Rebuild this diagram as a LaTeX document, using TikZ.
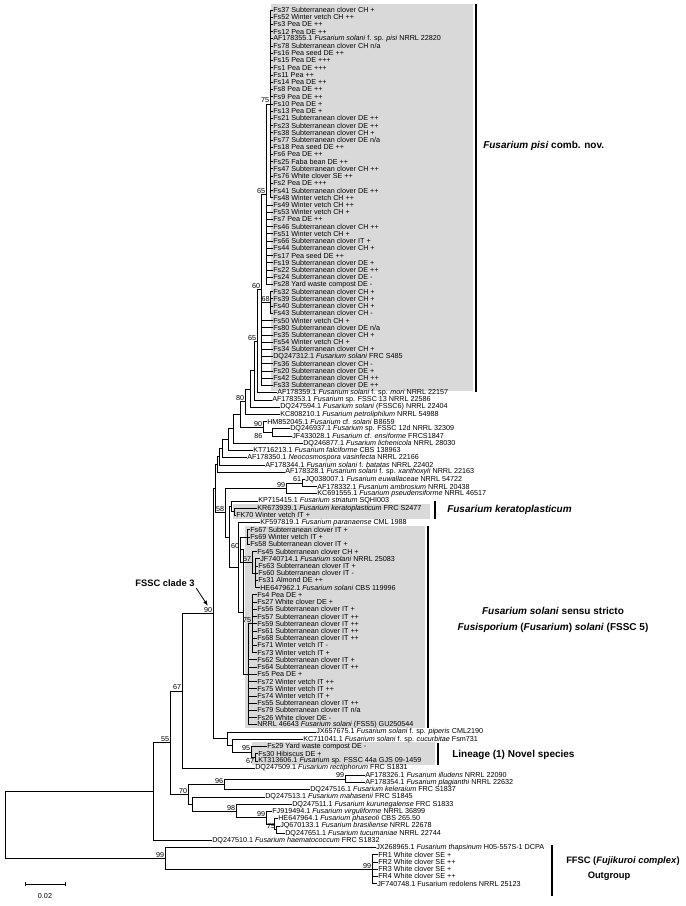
\documentclass[tikz,border=0pt]{standalone}
\usepackage{fontspec}
\setmainfont{Liberation Sans}
\usepackage{tikz}
\usetikzlibrary{arrows.meta}

\definecolor{boxgray}{RGB}{217,217,217}
\newcommand{\leaffont}{\fontsize{5.4}{6}\selectfont}
\newcommand{\cladefont}{\fontsize{7.5}{9}\selectfont\bfseries}

\begin{document}
\begin{tikzpicture}[
	x=0.75pt, y=-0.75pt,
	leaf/.style={anchor=west, inner sep=0pt, font=\leaffont},
	boot/.style={anchor=south east, inner sep=0.5pt, font=\leaffont},
	branch/.style={line width=0.6pt, black},
	cladebox/.style={fill=boxgray, draw=none},
	cladebar/.style={line width=2.2pt, black},
	cladename/.style={anchor=west, inner sep=0pt, font=\cladefont}
]
	\useasboundingbox (0,0) rectangle (685,906);

	% shaded clades and bars
	\fill[cladebox] (271,4) rectangle (473,391);
	\fill[cladebox] (233,504) rectangle (430,519);
	\fill[cladebox] (245,526) rectangle (425,728);
	\fill[cladebox] (252,742) rectangle (435,765);
	\draw[cladebar] (476,4) -- (476,392);
	\draw[cladebar] (435,501) -- (435,519);
	\draw[cladebar] (428,526) -- (428,728);
	\draw[cladebar] (438,743) -- (438,765);
	\draw[cladebar] (552,845) -- (552,896);

	% leaves
	\node[leaf] (l1) at (273,10.0) {Fs37 Subterranean clover CH +};
	\node[leaf] (l2) at (273,17.2) {Fs52 Winter vetch CH ++};
	\node[leaf] (l3) at (273,24.4) {Fs3 Pea DE ++};
	\node[leaf] (l4) at (273,31.7) {Fs12 Pea DE ++};
	\node[leaf] (l5) at (273,38.9) {AF178355.1 \textit{Fusarium solani} f. sp. \textit{pisi} NRRL 22820};
	\node[leaf] (l6) at (273,46.1) {Fs78 Subterranean clover CH n/a};
	\node[leaf] (l7) at (273,53.3) {Fs16 Pea seed DE ++};
	\node[leaf] (l8) at (273,60.5) {Fs15 Pea DE +++};
	\node[leaf] (l9) at (273,67.8) {Fs1 Pea DE +++};
	\node[leaf] (l10) at (273,75.0) {Fs11 Pea ++};
	\node[leaf] (l11) at (273,82.2) {Fs14 Pea DE ++};
	\node[leaf] (l12) at (273,89.4) {Fs8 Pea DE ++};
	\node[leaf] (l13) at (273,96.6) {Fs9 Pea DE ++};
	\node[leaf] (l14) at (273,103.9) {Fs10 Pea DE +};
	\node[leaf] (l15) at (273,111.1) {Fs13 Pea DE +};
	\node[leaf] (l16) at (273,118.3) {Fs21 Subterranean clover DE ++};
	\node[leaf] (l17) at (273,125.5) {Fs23 Subterranean clover DE ++};
	\node[leaf] (l18) at (273,132.7) {Fs38 Subterranean clover CH +};
	\node[leaf] (l19) at (273,140.0) {Fs77 Subterranean clover DE n/a};
	\node[leaf] (l20) at (273,147.2) {Fs18 Pea seed DE ++};
	\node[leaf] (l21) at (273,154.4) {Fs6 Pea DE ++};
	\node[leaf] (l22) at (273,161.6) {Fs25 Faba bean DE ++};
	\node[leaf] (l23) at (273,168.8) {Fs47 Subterranean clover CH ++};
	\node[leaf] (l24) at (273,176.1) {Fs76 White clover SE ++};
	\node[leaf] (l25) at (273,183.3) {Fs2 Pea DE +++};
	\node[leaf] (l26) at (273,190.5) {Fs41 Subterranean clover DE ++};
	\node[leaf] (l27) at (273,197.7) {Fs48 Winter vetch CH ++};
	\node[leaf] (l28) at (273,204.9) {Fs49 Winter vetch CH ++};
	\node[leaf] (l29) at (273,212.2) {Fs53 Winter vetch CH +};
	\node[leaf] (l30) at (273,219.4) {Fs7 Pea DE ++};
	\node[leaf] (l31) at (273,226.6) {Fs46 Subterranean clover CH ++};
	\node[leaf] (l32) at (273,233.8) {Fs51 Winter vetch CH +};
	\node[leaf] (l33) at (273,241.0) {Fs66 Subterranean clover IT +};
	\node[leaf] (l34) at (273,248.3) {Fs44 Subterranean clover CH +};
	\node[leaf] (l35) at (273,255.5) {Fs17 Pea seed DE ++};
	\node[leaf] (l36) at (273,262.7) {Fs19 Subterranean clover DE +};
	\node[leaf] (l37) at (273,269.9) {Fs22 Subterranean clover DE ++};
	\node[leaf] (l38) at (273,277.1) {Fs24 Subterranean clover DE -};
	\node[leaf] (l39) at (273,284.4) {Fs28 Yard waste compost DE -};
	\node[leaf] (l40) at (273,291.6) {Fs32 Subterranean clover CH +};
	\node[leaf] (l41) at (273,298.8) {Fs39 Subterranean clover CH +};
	\node[leaf] (l42) at (273,306.0) {Fs40 Subterranean clover CH +};
	\node[leaf] (l43) at (273,313.2) {Fs43 Subterranean clover CH -};
	\node[leaf] (l44) at (273,320.5) {Fs50 Winter vetch CH +};
	\node[leaf] (l45) at (273,327.7) {Fs80 Subterranean clover DE n/a};
	\node[leaf] (l46) at (273,334.9) {Fs35 Subterranean clover CH +};
	\node[leaf] (l47) at (273,342.1) {Fs54 Winter vetch CH +};
	\node[leaf] (l48) at (273,349.3) {Fs34 Subterranean clover CH +};
	\node[leaf] (l49) at (273,356.6) {DQ247312.1 \textit{Fusarium solani} FRC S485};
	\node[leaf] (l50) at (273,363.8) {Fs36 Subterranean clover CH -};
	\node[leaf] (l51) at (273,371.0) {Fs20 Subterranean clover DE +};
	\node[leaf] (l52) at (273,378.2) {Fs42 Subterranean clover CH ++};
	\node[leaf] (l53) at (273,385.4) {Fs33 Subterranean clover DE ++};
	\node[leaf] (l54) at (277,392.7) {AF178359.1 \textit{Fusarium solani} f. sp. \textit{mori} NRRL 22157};
	\node[leaf] (l55) at (272,399.9) {AF178353.1 \textit{Fusarium} sp. FSSC 13 NRRL 22586};
	\node[leaf] (l56) at (280,407.1) {DQ247594.1 \textit{Fusarium solani} (FSSC6) NRRL 22404};
	\node[leaf] (l57) at (280,414.3) {KC808210.1 \textit{Fusarium petroliphilum} NRRL 54988};
	\node[leaf] (l58) at (267,421.5) {HM852045.1 \textit{Fusarium} cf. \textit{solani} B8659};
	\node[leaf] (l59) at (290,428.8) {DQ246937.1 \textit{Fusarium} sp. FSSC 12d NRRL 32309};
	\node[leaf] (l60) at (292,436.0) {JF433028.1 \textit{Fusarium} cf. \textit{ensiforme} FRCS1847};
	\node[leaf] (l61) at (303,443.2) {DQ246877.1 \textit{Fusarium lichenicola} NRRL 28030};
	\node[leaf] (l62) at (253,450.4) {KT716213.1 \textit{Fusarium falciforme} CBS 138963};
	\node[leaf] (l63) at (247,457.6) {AF178350.1 \textit{Neocosmospora vasinfecta} NRRL 22166};
	\node[leaf] (l64) at (265,464.9) {AF178344.1 \textit{Fusarium solani} f. \textit{batatas} NRRL 22402};
	\node[leaf] (l65) at (285,472.1) {AF178328.1 \textit{Fusarium solani} f. sp. \textit{xanthoxyli} NRRL 22163};
	\node[leaf] (l66) at (305,479.3) {JQ038007.1 \textit{Fusarium euwallaceae} NRRL 54722};
	\node[leaf] (l67) at (317,486.5) {AF178332.1 \textit{Fusarium ambrosium} NRRL 20438};
	\node[leaf] (l68) at (317,493.7) {KC691555.1 \textit{Fusarium pseudensiforme} NRRL 46517};
	\node[leaf] (l69) at (258,501.0) {KP715415.1 \textit{Fusarium striatum} SQHI003};
	\node[leaf] (l70) at (257,508.2) {KR673939.1 \textit{Fusarium keratoplasticum} FRC S2477};
	\node[leaf] (l71) at (236,515.4) {FK70 Winter vetch IT +};
	\node[leaf] (l72) at (260,522.6) {KF597819.1 \textit{Fusarium paranaense} CML 1988};
	\node[leaf] (l73) at (250,529.8) {Fs67 Subterranean clover IT +};
	\node[leaf] (l74) at (250,537.1) {Fs69 Winter vetch IT +};
	\node[leaf] (l75) at (250,544.3) {Fs58 Subterranean clover IT +};
	\node[leaf] (l76) at (257,551.5) {Fs45 Subterranean clover CH +};
	\node[leaf] (l77) at (260,558.7) {JF740714.1 \textit{Fusarium solani} NRRL 25083};
	\node[leaf] (l78) at (258,565.9) {Fs63 Subterranean clover IT +};
	\node[leaf] (l79) at (258,573.2) {Fs60 Subterranean clover IT -};
	\node[leaf] (l80) at (258,580.4) {Fs31 Almond DE ++};
	\node[leaf] (l81) at (260,587.6) {HE647962.1 \textit{Fusarium solani} CBS 119996};
	\node[leaf] (l82) at (257,594.8) {Fs4 Pea DE +};
	\node[leaf] (l83) at (257,602.0) {Fs27 White clover DE +};
	\node[leaf] (l84) at (257,609.3) {Fs56 Subterranean clover IT +};
	\node[leaf] (l85) at (257,616.5) {Fs57 Subterranean clover IT ++};
	\node[leaf] (l86) at (257,623.7) {Fs59 Subterranean clover IT ++};
	\node[leaf] (l87) at (257,630.9) {Fs61 Subterranean clover IT ++};
	\node[leaf] (l88) at (257,638.1) {Fs68 Subterranean clover IT ++};
	\node[leaf] (l89) at (257,645.4) {Fs71 Winter vetch IT -};
	\node[leaf] (l90) at (257,652.6) {Fs73 Winter vetch IT +};
	\node[leaf] (l91) at (257,659.8) {Fs62 Subterranean clover IT +};
	\node[leaf] (l92) at (257,667.0) {Fs64 Subterranean clover IT ++};
	\node[leaf] (l93) at (257,674.2) {Fs5 Pea DE +};
	\node[leaf] (l94) at (257,681.5) {Fs72 Winter vetch IT ++};
	\node[leaf] (l95) at (257,688.7) {Fs75 Winter vetch IT ++};
	\node[leaf] (l96) at (257,695.9) {Fs74 Winter vetch IT +};
	\node[leaf] (l97) at (257,703.1) {Fs55 Subterranean clover IT ++};
	\node[leaf] (l98) at (257,710.3) {Fs79 Subterranean clover IT n/a};
	\node[leaf] (l99) at (257,717.6) {Fs26 White clover DE -};
	\node[leaf] (l100) at (257,724.8) {NRRL 46643 \textit{Fusarium solani} (FSS5) GU250544};
	\node[leaf] (l101) at (316,732.0) {JX657675.1 \textit{Fusarium solani} f. sp. \textit{piperis} CML2190};
	\node[leaf] (l102) at (303,739.2) {KC711041.1 \textit{Fusarium solani} f. sp. \textit{cucurbitae} Fsm731};
	\node[leaf] (l103) at (267,746.4) {Fs29 Yard waste compost DE -};
	\node[leaf] (l104) at (258,753.7) {Fs30 Hibiscus DE +};
	\node[leaf] (l105) at (258,760.9) {KT313606.1 \textit{Fusarium} sp. FSSC 44a GJS 09-1459};
	\node[leaf] (l106) at (255,768.1) {DQ247509.1 \textit{Fusarium rectiphorum} FRC S1831};
	\node[leaf] (l107) at (365,775.3) {AF178326.1 \textit{Fusarium illudens} NRRL 22090};
	\node[leaf] (l108) at (365,782.5) {AF178354.1 \textit{Fusarium plagianthi} NRRL 22632};
	\node[leaf] (l109) at (310,789.8) {DQ247516.1 \textit{Fusarium keleraium} FRC S1837};
	\node[leaf] (l110) at (265,797.0) {DQ247513.1 \textit{Fusarium mahasenii} FRC S1845};
	\node[leaf] (l111) at (292,804.2) {DQ247511.1 \textit{Fusarium kurunegalense} FRC S1833};
	\node[leaf] (l112) at (272,811.4) {FJ919494.1 \textit{Fusarium virguliforme} NRRL 36899};
	\node[leaf] (l113) at (278,818.6) {HE647964.1 \textit{Fusarium phaseoli} CBS 265.50};
	\node[leaf] (l114) at (280,825.9) {JQ670133.1 \textit{Fusarium brasiliense} NRRL 22678};
	\node[leaf] (l115) at (285,833.1) {DQ247651.1 \textit{Fusarium tucumaniae} NRRL 22744};
	\node[leaf] (l116) at (212,840.3) {DQ247510.1 \textit{Fusarium haematococcum} FRC S1832};
	\node[leaf] (l117) at (376,847.5) {JX268965.1 \textit{Fusarium thapsinum} H05-557S-1 DCPA};
	\node[leaf] (l118) at (378,854.7) {FR1 White clover SE +};
	\node[leaf] (l119) at (378,862.0) {FR2 White clover SE ++};
	\node[leaf] (l120) at (378,869.2) {FR3 White clover SE +};
	\node[leaf] (l121) at (378,876.4) {FR4 White clover SE ++};
	\node[leaf] (l122) at (377,883.6) {JF740748.1 Fusarium redolens NRRL 25123};

	% internal nodes
	\coordinate (p75) at (270,103.9);
	\coordinate (p65a) at (266,194.2);
	\coordinate (p68) at (270.5,302.4);
	\coordinate (p60) at (261,289.8);
	\coordinate (nmori) at (257,341.3);
	\coordinate (n353) at (254,370.6);
	\coordinate (n594) at (250,388.9);
	\coordinate (n80) at (245,401.6);
	\coordinate (n86) at (272,432.4);
	\coordinate (n90a) at (263,427.0);
	\coordinate (nB) at (240,414.3);
	\coordinate (nC) at (233,428.8);
	\coordinate (nD) at (228,439.6);
	\coordinate (nE) at (222,448.6);
	\coordinate (nF) at (219,456.8);
	\coordinate (nG) at (217,464.4);
	\coordinate (n61) at (302,482.9);
	\coordinate (n99a) at (286,488.3);
	\coordinate (nker) at (234,511.8);
	\coordinate (nkp) at (231,506.4);
	\coordinate (nT) at (247,537.1);
	\coordinate (nQ5) at (255,573.2);
	\coordinate (n57) at (252,562.3);
	\coordinate (n60b) at (240,549.7);
	\coordinate (n75c) at (252,623.7);
	\coordinate (nR) at (248,674.3);
	\coordinate (nF5) at (243,612.0);
	\coordinate (npar) at (238,567.3);
	\coordinate (nkf) at (229,536.9);
	\coordinate (n58) at (225,512.6);
	\coordinate (nU) at (215,488.5);
	\coordinate (n67c) at (255,757.3);
	\coordinate (n95) at (251,751.9);
	\coordinate (nK) at (232,745.6);
	\coordinate (nJ) at (227,738.8);
	\coordinate (n90) at (213,613.7);
	\coordinate (n67b) at (182,690.9);
	\coordinate (n99i) at (345,778.9);
	\coordinate (n96) at (224,784.4);
	\coordinate (n75b) at (276,829.5);
	\coordinate (nH) at (274,824.1);
	\coordinate (n99b) at (266,817.8);
	\coordinate (n98) at (236,811.0);
	\coordinate (nM) at (192,804.0);
	\coordinate (n70) at (188,794.2);
	\coordinate (n55) at (170,742.6);
	\coordinate (nQ) at (153,791.5);
	\coordinate (nFR) at (372,869.2);
	\coordinate (nout) at (165,858.4);
	\coordinate (root) at (5,824.9);

	% branches
	\foreach \i in {1,...,27} \draw[branch] (p75) |- (l\i.west);
	\foreach \i in {28,...,39} \draw[branch] (p65a) |- (l\i.west);
	\draw[branch] (p65a) |- (p75);
	\foreach \i in {40,...,43} \draw[branch] (p68) |- (l\i.west);
	\foreach \i in {44,...,53} \draw[branch] (p60) |- (l\i.west);
	\draw[branch] (p60) |- (p65a);
	\draw[branch] (p60) |- (p68);
	\draw[branch] (nmori) |- (p60);
	\draw[branch] (nmori) |- (l54.west);
	\draw[branch] (n353) |- (nmori);
	\draw[branch] (n353) |- (l55.west);
	\draw[branch] (n594) |- (n353);
	\draw[branch] (n594) |- (l56.west);
	\draw[branch] (n80) |- (n594);
	\draw[branch] (n80) |- (l57.west);
	\draw[branch] (n86) |- (l59.west);
	\draw[branch] (n86) |- (l60.west);
	\draw[branch] (n90a) |- (l58.west);
	\draw[branch] (n90a) |- (n86);
	\draw[branch] (nB) |- (n80);
	\draw[branch] (nB) |- (n90a);
	\draw[branch] (nC) |- (nB);
	\draw[branch] (nC) |- (l61.west);
	\draw[branch] (nD) |- (nC);
	\draw[branch] (nD) |- (l62.west);
	\draw[branch] (nE) |- (nD);
	\draw[branch] (nE) |- (l63.west);
	\draw[branch] (nF) |- (nE);
	\draw[branch] (nF) |- (l64.west);
	\draw[branch] (nG) |- (nF);
	\draw[branch] (nG) |- (l65.west);
	\draw[branch] (n61) |- (l66.west);
	\draw[branch] (n61) |- (l67.west);
	\draw[branch] (n99a) |- (n61);
	\draw[branch] (n99a) |- (l68.west);
	\draw[branch] (nker) |- (l70.west);
	\draw[branch] (nker) |- (l71.west);
	\draw[branch] (nkp) |- (l69.west);
	\draw[branch] (nkp) |- (nker);
	\foreach \i in {73,74,75} \draw[branch] (nT) |- (l\i.west);
	\foreach \i in {77,...,81} \draw[branch] (nQ5) |- (l\i.west);
	\draw[branch] (n57) |- (l76.west);
	\draw[branch] (n57) |- (nQ5);
	\draw[branch] (n60b) |- (nT);
	\draw[branch] (n60b) |- (n57);
	\foreach \i in {82,...,90} \draw[branch] (n75c) |- (l\i.west);
	\foreach \i in {91,...,100} \draw[branch] (nR) |- (l\i.west);
	\draw[branch] (nR) |- (n75c);
	\draw[branch] (nF5) |- (n60b);
	\draw[branch] (nF5) |- (nR);
	\draw[branch] (npar) |- (l72.west);
	\draw[branch] (npar) |- (nF5);
	\draw[branch] (nkf) |- (nkp);
	\draw[branch] (nkf) |- (npar);
	\draw[branch] (n58) |- (n99a);
	\draw[branch] (n58) |- (nkf);
	\draw[branch] (nU) |- (nG);
	\draw[branch] (nU) |- (n58);
	\draw[branch] (n67c) |- (l104.west);
	\draw[branch] (n67c) |- (l105.west);
	\draw[branch] (n95) |- (l103.west);
	\draw[branch] (n95) |- (n67c);
	\draw[branch] (nK) |- (l102.west);
	\draw[branch] (nK) |- (n95);
	\draw[branch] (nJ) |- (l101.west);
	\draw[branch] (nJ) |- (nK);
	\draw[branch] (n90) |- (nU);
	\draw[branch] (n90) |- (nJ);
	\draw[branch] (n67b) |- (n90);
	\draw[branch] (n67b) |- (l106.west);
	\draw[branch] (n99i) |- (l107.west);
	\draw[branch] (n99i) |- (l108.west);
	\draw[branch] (n96) |- (n99i);
	\draw[branch] (n96) |- (l109.west);
	\draw[branch] (n75b) |- (l114.west);
	\draw[branch] (n75b) |- (l115.west);
	\draw[branch] (nH) |- (l113.west);
	\draw[branch] (nH) |- (n75b);
	\draw[branch] (n99b) |- (l112.west);
	\draw[branch] (n99b) |- (nH);
	\draw[branch] (n98) |- (l111.west);
	\draw[branch] (n98) |- (n99b);
	\draw[branch] (nM) |- (l110.west);
	\draw[branch] (nM) |- (n98);
	\draw[branch] (n70) |- (n96);
	\draw[branch] (n70) |- (nM);
	\draw[branch] (n55) |- (n67b);
	\draw[branch] (n55) |- (n70);
	\draw[branch] (nQ) |- (n55);
	\draw[branch] (nQ) |- (l116.west);
	\foreach \i in {118,...,122} \draw[branch] (nFR) |- (l\i.west);
	\draw[branch] (nout) |- (l117.west);
	\draw[branch] (nout) |- (nFR);
	\draw[branch] (root) |- (nQ);
	\draw[branch] (root) |- (nout);

	% bootstrap values
	\node[boot] (b75) at (p75) {75};
	\node[boot] (b65a) at (p65a) {65};
	\node[boot] (b60) at (p60) {60};
	\node[boot] (b68) at (p68) {68};
	\node[boot] (b65b) at (nmori) {65};
	\node[boot] (b80) at (n80) {80};
	\node[boot] (b90a) at (n90a) {90};
	\node[boot, anchor=north east] (b86) at ([xshift=-6.5pt]n86) {86};
	\node[boot] (b61) at (n61) {61};
	\node[boot] (b99a) at (n99a) {99};
	\node[boot] (b58) at (n58) {58};
	\node[boot] (b60b) at (n60b) {60};
	\node[boot] (b57) at (n57) {57};
	\node[boot] (b75c) at (n75c) {75};
	\node[boot] (b90) at (n90) {90};
	\node[boot] (b95) at (n95) {95};
	\node[boot, anchor=north east] (b67c) at (n67c) {67};
	\node[boot] (b67b) at (n67b) {67};
	\node[boot] (b55) at (n55) {55};
	\node[boot] (b99i) at (n99i) {99};
	\node[boot] (b96) at (n96) {96};
	\node[boot] (b70) at (n70) {70};
	\node[boot] (b98) at (n98) {98};
	\node[boot] (b99b) at (n99b) {99};
	\node[boot] (b75b) at (n75b) {75};
	\node[boot] (b99o) at (nout) {99};
	\node[boot] (b99f) at (nFR) {99};

	% clade names
	\node[cladename] (pisi) at (483,146) {\textit{Fusarium pisi} comb. nov.};
	\node[cladename] (kerato) at (447,510) {\textit{Fusarium keratoplasticum}};
	\node[cladename, anchor=center] (solani) at (553,611) {\textit{Fusarium solani} sensu stricto};
	\node[cladename, anchor=center] (fssc5) at (553,628) {\textit{Fusisporium} (\textit{Fusarium}) \textit{solani} (FSSC 5)};
	\node[cladename] (lineage) at (452,755) {Lineage (1) Novel species};
	\node[cladename, font=\fontsize{7}{8}\selectfont\bfseries] (ffsc) at (566,861) {FFSC (\textit{Fujikuroi complex})};
	\node[cladename, anchor=center, font=\fontsize{7}{8}\selectfont\bfseries] (outg) at (609,876) {Outgroup};

	% clade 3 pointer
	\node[font=\fontsize{7}{8}\selectfont\bfseries, inner sep=1pt] (clade3) at (165,583) {FSSC clade 3};
	\draw[-{Latex[length=4pt,width=3pt]}, line width=0.6pt, shorten >=7pt] (clade3.south east) -- (n90);

	% scale bar
	\coordinate (s0) at (25,884);
	\coordinate (s1) at (65,884);
	\draw[branch] (s0) -- (s1);
	\draw[branch] ([yshift=1.5pt]s0) -- ([yshift=-1.5pt]s0);
	\draw[branch] ([yshift=1.5pt]s1) -- ([yshift=-1.5pt]s1);
	\node[font=\leaffont] (scale) at (45,896) {0.02};
\end{tikzpicture}
\end{document}
